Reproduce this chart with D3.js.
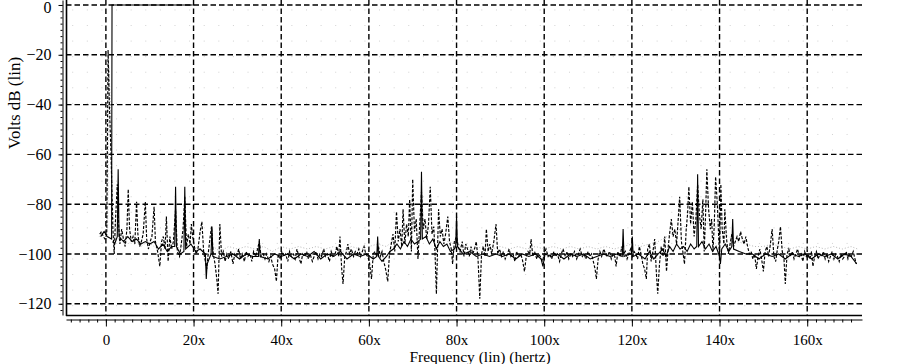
<!DOCTYPE html>
<html>
<head>
<meta charset="utf-8">
<script src="https://cdn.jsdelivr.net/npm/d3@7"></script>
<style>
body { margin: 0; background: #fff; }
text { font-family: "Liberation Serif", "Times New Roman", serif; fill: #000; }
</style>
</head>
<body>
<svg id="chart"></svg>
<script>
// tick values and labels
const xTicks = [0, 20, 40, 60, 80, 100, 120, 140, 160];
const xTickLabels = ["0", "20x", "40x", "60x", "80x", "100x", "120x", "140x", "160x"];
const yTicks = [0, -20, -40, -60, -80, -100, -120];
const yTickLabels = ["0", "\u221220", "\u221240", "\u221260", "\u221280", "\u2212100", "\u2212120"];

// dashed trace [frequency, dB]
const dashedPts = [
  [-1.4,-92],[-1.0,-91],[-0.6,-93],[-0.2,-94],[0.2,-92],[0.5,-18],[0.8,-40],[1.2,-62],[1.6,-90],[1.9,-100],
  [2.2,-86],[2.6,-72],[2.9,-88],[3.2,-96],[3.6,-90],[4.0,-94],[4.4,-97],[4.8,-90],[5.1,-74],[5.4,-90],
  [5.8,-95],[6.2,-93],[6.6,-96],[7.0,-79],[7.3,-92],[7.7,-97],[8.1,-95],[8.5,-92],[9.0,-79],[9.3,-94],
  [9.7,-98],[10.1,-95],[10.5,-93],[11.0,-81],[11.3,-95],[11.8,-99],[12.3,-105],[12.7,-95],[13.1,-93],[13.5,-98],
  [13.8,-85],[14.2,-103],[14.6,-93],[15.0,-98],[15.4,-95],[15.9,-82],[16.3,-99],[16.8,-101],[17.2,-96],[17.6,-90],
  [18.0,-77],[18.4,-97],[18.8,-92],[19.2,-96],[19.5,-88],[19.8,-93],[20.2,-97],[20.6,-100],[21.0,-98],[21.5,-91],
  [21.9,-87],[22.3,-99],[22.7,-103],[23.0,-106],[23.4,-99],[23.8,-93],[24.1,-89],[24.5,-100],[24.9,-104],[25.3,-110],
  [25.6,-116],[26.0,-88],[26.4,-101],[26.8,-99],[27.2,-103],
  [27.6,-100],[28.0,-102],[28.5,-99],[29.0,-104],[29.4,-100],[29.8,-101],[30.3,-98],[30.7,-102],[31.1,-100],[31.6,-103],
  [32.0,-99],[32.4,-101],[32.9,-100],[33.3,-103],[33.7,-99],[34.2,-101],[34.6,-98],[35.0,-95],[35.4,-101],[35.9,-100],
  [36.3,-102],[36.7,-100],[37.2,-103],[37.6,-101],[38.0,-104],[38.5,-106],[38.9,-111],[39.3,-100],[39.7,-102],[40.2,-99],
  [40.6,-101],[41.0,-100],[41.5,-103],[41.9,-99],[42.3,-101],[42.8,-100],[43.2,-102],[43.6,-98],[44.0,-101],[44.5,-104],
  [44.9,-100],[45.3,-101],[45.8,-99],[46.2,-102],[46.6,-100],[47.1,-103],[47.5,-101],[47.9,-99],[48.4,-102],[48.8,-100],
  [49.2,-101],[49.7,-98],[50.1,-101],[50.5,-100],[51.0,-103],[51.4,-99],[51.8,-101],[52.3,-100],[52.7,-97],[53.1,-101],
  [53.4,-93],[53.8,-106],[54.1,-112],[54.5,-101],[54.9,-99],[55.2,-96],[55.6,-100],[56.0,-98],[56.5,-101],[56.9,-99],
  [57.3,-100],[57.7,-98],[58.1,-101],[58.5,-99],[58.9,-97],[59.3,-100],[59.7,-101],[60.1,-103],[60.6,-110],[61.0,-100],
  [61.4,-99],[61.8,-101],[62.2,-97],[62.6,-101],[63.0,-99],[63.4,-103],[63.8,-106],[64.3,-111],[64.7,-100],[65.1,-96],
  [65.5,-92],
  [65.9,-99],[66.3,-83],[66.7,-95],[67.1,-90],[67.5,-97],[67.8,-82],[68.2,-96],[68.6,-88],[69.0,-93],[69.3,-78],
  [69.7,-99],[70.0,-70],[70.4,-91],[70.8,-86],[71.2,-102],[71.6,-88],[72.0,-75],[72.4,-90],[72.8,-86],[73.2,-94],
  [73.6,-88],[74.0,-73],[74.4,-92],[74.8,-89],[75.1,-100],[75.4,-116],[75.9,-82],[76.3,-93],[76.7,-90],[77.1,-96],
  [77.5,-92],[78.0,-85],[78.4,-95],[78.8,-98],[79.1,-104],[79.5,-95],[80.0,-93],[80.4,-97],[80.8,-99],[81.3,-95],
  [81.7,-101],[82.1,-96],[82.5,-98],[82.9,-101],[83.3,-97],[83.7,-100],[84.1,-98],[84.5,-95],[84.9,-102],[85.3,-118],
  [85.7,-100],[86.1,-97],[86.5,-101],[86.8,-90],[87.2,-99],[87.6,-96],[88.0,-100],[88.5,-95],[89.0,-88],[89.4,-100],
  [89.8,-98],
  [90.3,-101],[90.7,-99],[91.1,-102],[91.6,-100],[92.0,-98],[92.4,-101],[92.9,-100],[93.3,-103],[93.7,-99],[94.1,-101],
  [94.6,-100],[95.0,-102],[95.5,-107],[95.9,-101],[96.3,-99],[96.7,-100],[97.0,-94],[97.4,-101],[97.8,-99],[98.3,-102],
  [98.7,-100],[99.1,-101],[99.6,-103],[100.0,-100],[100.4,-98],[100.9,-101],[101.3,-100],[101.7,-102],[102.2,-99],[102.6,-101],
  [103.0,-100],[103.5,-103],[103.9,-100],[104.3,-98],[104.8,-101],[105.2,-99],[105.6,-102],[106.1,-100],[106.5,-101],[106.9,-99],
  [107.4,-102],[107.8,-100],[108.2,-98],[108.7,-101],[109.1,-100],[109.5,-102],[110.0,-99],[110.4,-101],[110.8,-100],[111.2,-103],
  [111.6,-106],[111.9,-110],[112.3,-102],[112.7,-99],[113.1,-101],[113.6,-98],[114.0,-100],[114.4,-101],[114.9,-99],[115.3,-102],
  [115.7,-100],[116.1,-101],[116.4,-105],[116.8,-99],[117.3,-101],[117.7,-97],[118.1,-100],[118.5,-99],[118.9,-102],[119.3,-100],
  [119.7,-98],[120.1,-101],[120.5,-99],[120.9,-100],[121.3,-102],[121.7,-97],[122.1,-100],[122.5,-104],
  [122.9,-106],[123.3,-110],[123.6,-98],[124.0,-96],[124.4,-103],[124.8,-99],[125.2,-94],[125.6,-108],[125.9,-116],[126.3,-104],
  [126.7,-97],[127.1,-101],[127.5,-93],[127.9,-107],[128.3,-97],[128.6,-92],[129.0,-86],[129.4,-93],[129.8,-90],[130.2,-96],
  [130.5,-88],[130.9,-77],[131.3,-95],[131.7,-100],[132.0,-104],[132.4,-90],[132.7,-84],[133.0,-73],[133.4,-88],[133.8,-79],
  [134.2,-93],[134.6,-86],[135.0,-72],[135.4,-84],[135.8,-90],[136.2,-78],[136.5,-99],[136.8,-85],[137.1,-66],[137.5,-82],
  [137.9,-90],[138.2,-86],[138.5,-99],[138.8,-88],[139.1,-69],[139.5,-80],[139.8,-93],[140.0,-101],[140.3,-72],[140.6,-90],
  [141.0,-96],[141.2,-82],[141.6,-94],[142.0,-100],[142.4,-96],[142.8,-92],[143.2,-97],[143.6,-95],[144.0,-93],[144.4,-95],
  [144.8,-91],[145.2,-94],[145.6,-96],[146.0,-93],[146.4,-97],[146.8,-100],
  [147.2,-99],[147.6,-102],[148.0,-100],[148.4,-106],[148.8,-101],[149.2,-98],[149.6,-102],[150.0,-107],[150.4,-99],[150.8,-97],
  [151.2,-101],[151.6,-96],[152.0,-90],[152.4,-101],[152.8,-103],[153.2,-98],[153.5,-95],[153.9,-89],[154.3,-99],[154.7,-102],
  [155.0,-112],[155.4,-100],[155.8,-98],[156.2,-101],[156.6,-99],[157.0,-102],[157.4,-100],[157.8,-98],[158.2,-101],[158.6,-100],
  [159.0,-103],[159.4,-99],[159.8,-101],[160.2,-100],[160.6,-102],[161.0,-99],[161.3,-105],[161.7,-101],[162.1,-99],[162.5,-102],
  [162.9,-100],[163.3,-101],[163.7,-99],[164.1,-102],[164.5,-100],[164.9,-103],[165.3,-101],[165.7,-99],[166.1,-102],[166.5,-100],
  [166.9,-101],[167.3,-103],[167.7,-100],[168.1,-102],[168.5,-101],[168.9,-99],[169.3,-102],[169.7,-100],[170.1,-101],[170.5,-99],
  [170.9,-102],[171.2,-104]
];

// solid trace (null = break where the trace runs off the top)
const solidPts = [
  [-1.2,-93],[-0.4,-91],[0.3,-93],[1.3,-94],[1.4,0],[19.8,0], null,
  [1.5,-95],[2.0,-96],[2.6,-93],[2.8,-66],[3.0,-93],[4.0,-95],[5.0,-93],[6.0,-95],[7.0,-94],[8.0,-96],[9.0,-95],[10.0,-96],
  [11.0,-95],[12.0,-98],[13.0,-96],[14.0,-99],[15.0,-97],[15.7,-97],[15.9,-73],[16.1,-97],[17.0,-100],[17.8,-99],
  [18.0,-73],[18.2,-98],[19.4,-96],[20.5,-99],[21.5,-98],[22.7,-100],[22.9,-110],[23.1,-104],[24.0,-100],[24.2,-89],
  [24.4,-101],[26.0,-102],[27.5,-101],[29.0,-100],[30.5,-102],[32.0,-100],[33.5,-101],[34.8,-101],[35.0,-94],[35.2,-101],
  [37.0,-102],[38.5,-100],[40.0,-101],[41.5,-100],[43.0,-102],[44.5,-100],[46.0,-101],[47.5,-99],[49.0,-102],[50.5,-100],
  [52.0,-101],[53.5,-99],[55.0,-102],[56.5,-100],[58.0,-101],[59.5,-100],[61.0,-102],[61.8,-101],[62.0,-93],[62.2,-101],
  [63.0,-103],[64.0,-101],[64.8,-99],[65.6,-98],[66.4,-96],[67.2,-98],[68.0,-95],[68.8,-97],[69.6,-94],[70.4,-96],
  [71.2,-95],[71.8,-94],[72.0,-67],[72.2,-94],[73.0,-93],[73.8,-96],[74.6,-94],[75.4,-98],[76.2,-95],[77.0,-97],
  [77.8,-96],[78.6,-99],[79.5,-98],[79.8,-97],[80.0,-85],[80.2,-97],[81.5,-100],[83.0,-99],[84.5,-101],
  [86.0,-100],[87.5,-101],[89.0,-100],[90.5,-101],[92.0,-100],[93.5,-102],[95.0,-100],[96.5,-101],[98.0,-100],[99.3,-102],
  [99.7,-105],[100.2,-100],[101.5,-101],[103.0,-100],[104.5,-102],[106.0,-100],[107.5,-101],[109.0,-100],[110.5,-102],[112.0,-101],
  [113.5,-100],[115.0,-101],[116.5,-100],[117.8,-101],[118.0,-90],[118.2,-101],[119.5,-100],[119.9,-100],[120.1,-93],[120.3,-101],
  [121.5,-100],[123.0,-102],[124.0,-99],[125.0,-102],[126.0,-100],[127.0,-98],[127.8,-101],[128.6,-97],[129.4,-99],[130.2,-96],
  [131.0,-98],[131.8,-97],[132.6,-99],[133.4,-96],[134.2,-98],[134.8,-97],[135.0,-68],[135.2,-97],[136.0,-95],[136.8,-98],
  [137.6,-96],[138.4,-99],[139.2,-97],[140.0,-101],[140.2,-104],[140.5,-98],[141.3,-96],[142.1,-99],[142.8,-97],
  [143.0,-86],[143.2,-98],[144.5,-99],[146.0,-100],[147.5,-100],[149.0,-102],[150.5,-100],[152.0,-101],[153.5,-100],[155.0,-102],
  [156.5,-100],[158.0,-101],[159.5,-100],[161.0,-102],[162.5,-100],[164.0,-101],[165.5,-100],[167.0,-102],[168.5,-100],[170.0,-101],
  [171.3,-104]
];

// faint grey dotted trace
const grayPts = [
  [-1.5,-93],[-0.5,-91],[0.4,-90],[0.7,-25],[1.1,-45],[1.5,-80],[2.2,-95],[3.5,-93],[5,-96],[6.5,-94],
  [8,-97],[9.5,-95],[11,-97],[12.5,-99],[14,-97],[15.5,-96],[17,-98],[18.5,-95],[20,-97],[21.5,-98],
  [23,-100],[24.5,-97],[26,-99],[28,-97],[30,-98],[32,-97],[34,-98],[36,-97],[38,-99],[40,-97],
  [42,-98],[44,-97],[46,-98],[48,-97],[50,-98],[52,-97],[54,-99],[56,-97],[58,-98],[60,-97],
  [62,-96],[64,-97],[66,-94],[68,-92],[70,-90],[72,-89],[74,-91],[76,-93],[78,-95],[80,-96],
  [82,-97],[84,-98],[86,-97],[88,-98],[90,-97],[92,-98],[94,-97],[96,-98],[98,-97],[100,-98],
  [102,-97],[104,-98],[106,-97],[108,-98],[110,-97],[112,-98],[114,-97],[116,-98],[118,-97],[120,-96],
  [122,-97],[124,-96],[126,-95],[128,-93],[130,-91],[132,-89],[134,-88],[136,-87],[138,-88],[140,-90],
  [142,-93],[144,-95],[146,-96],[148,-97],[150,-97],[152,-96],[154,-97],[156,-98],[158,-97],[160,-98],
  [162,-97],[164,-98],[166,-97],[168,-98],[170,-97],[171.5,-98]
];

const width = 903, height = 364;
const svg = d3.select("#chart").attr("width", width).attr("height", height);

const x = d3.scaleLinear([-9.1, 172.5], [66, 862]);
const y = d3.scaleLinear([-124.5, 2], [315, 0]);

svg.append("defs").append("clipPath").attr("id", "plotclip")
   .append("rect").attr("x", 66).attr("y", 0).attr("width", 862 - 66).attr("height", 315);

// faint dot lattice
const dotFreqs = d3.range(-7.57, 172, 10 / 3);
const dotLevels = d3.range(-2, -124, -6.25);
svg.append("g").selectAll("rect")
   .data(d3.cross(dotFreqs, dotLevels))
   .join("rect")
   .attr("x", d => x(d[0]) - 0.5)
   .attr("y", d => y(d[1]) - 0.5)
   .attr("width", 1).attr("height", 1)
   .attr("fill", "#d2d2d2");

// dashed grid
const grid = svg.append("g").attr("stroke", "#000").attr("stroke-width", 1.4)
                .attr("stroke-dasharray", "5.5,3").attr("fill", "none");
grid.selectAll(".vg").data(xTicks).join("line").attr("class", "vg")
    .attr("x1", d => x(d)).attr("x2", d => x(d)).attr("y1", 0).attr("y2", 315);
grid.selectAll(".hg").data(yTicks).join("line").attr("class", "hg")
    .attr("x1", 66).attr("x2", 862).attr("y1", d => y(d)).attr("y2", d => y(d));

// traces
const line = d3.line().defined(d => d != null).x(d => x(d[0])).y(d => y(d[1]));
const traces = svg.append("g").attr("clip-path", "url(#plotclip)").attr("fill", "none");

traces.append("path").datum(grayPts)
      .attr("stroke", "#b8b8b8").attr("stroke-width", 1)
      .attr("stroke-dasharray", "1,2").attr("d", line);

traces.append("path").datum(solidPts)
      .attr("stroke", "#000").attr("stroke-width", 1.1).attr("d", line);

traces.append("path").datum(dashedPts)
      .attr("stroke", "#000").attr("stroke-width", 1.15)
      .attr("stroke-dasharray", "3,1.6").attr("d", line);

// frame
svg.append("line").attr("x1", 66.5).attr("x2", 66.5).attr("y1", 0).attr("y2", 316)
   .attr("stroke", "#000").attr("stroke-width", 1.6);
svg.append("line").attr("x1", 66).attr("x2", 862).attr("y1", 315.5).attr("y2", 315.5)
   .attr("stroke", "#000").attr("stroke-width", 1.6);

// left axis
const yAxis = svg.append("g").attr("transform", "translate(62.5,0)")
   .call(d3.axisLeft(y).tickValues(yTicks).tickFormat((d, i) => yTickLabels[i])
          .tickSize(4).tickSizeOuter(0).tickPadding(7));
yAxis.selectAll("text").attr("font-size", 16).attr("font-family", "Liberation Serif")
     .filter(d => d === 0).attr("dy", "0.45em");
svg.append("g").attr("transform", "translate(62.5,0)")
   .call(d3.axisLeft(y).tickValues(d3.range(-122.5, 2, 2.5)).tickFormat("").tickSize(2).tickSizeOuter(0))
   .select(".domain").remove();

// bottom axis
const xAxis = svg.append("g").attr("transform", "translate(0,319.5)")
   .call(d3.axisBottom(x).tickValues(xTicks).tickFormat((d, i) => xTickLabels[i])
          .tickSize(7).tickSizeOuter(0).tickPadding(8));
xAxis.selectAll("text").attr("font-size", 15).attr("font-family", "Liberation Serif");
svg.append("g").attr("transform", "translate(0,319.5)")
   .call(d3.axisBottom(x).tickValues(d3.range(-8, 172, 2)).tickFormat("").tickSize(3).tickSizeOuter(0))
   .select(".domain").remove();

// titles
svg.append("text").attr("x", 480).attr("y", 362).attr("text-anchor", "middle")
   .attr("font-size", 15.5).text("Frequency (lin) (hertz)");
svg.append("text").attr("transform", "translate(20,103) rotate(-90)").attr("text-anchor", "middle")
   .attr("font-size", 17).text("Volts dB (lin)");
</script>
</body>
</html>
